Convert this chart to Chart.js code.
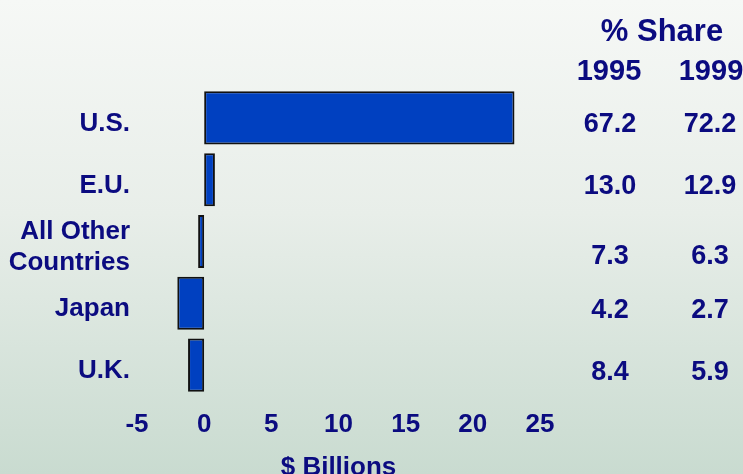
<!DOCTYPE html>
<html>
<head>
<meta charset="utf-8">
<script src="https://cdn.jsdelivr.net/npm/chart.js@4"></script>
<style>
  html, body { margin: 0; padding: 0; }
  body { width: 743px; height: 474px; background: linear-gradient(#f6f8f6, #e8eee9 45%, #c9dbd0); }
  #wrap { width: 743px; height: 474px; }
</style>
</head>
<body>
<div id="wrap"><canvas id="chart"></canvas></div>
<script>
const categories = ['U.S.', 'E.U.', ['All Other', 'Countries'], 'Japan', 'U.K.'];
const billions = [23.1, 0.8, -0.45, -2.0, -1.2];
const share1995 = ['67.2', '13.0', '7.3', '4.2', '8.4'];
const share1999 = ['72.2', '12.9', '6.3', '2.7', '5.9'];
const years = ['1995', '1999'];

const navy = '#0b0b80';
const font = { family: 'Liberation Sans, Arial, sans-serif', weight: 'bold', size: 26, lineHeight: 1.2 };

// share table on the right, rows follow the category scale
const shareTable = {
  id: 'shareTable',
  afterDraw(chart) {
    const ctx = chart.ctx;
    const y = chart.scales.y;
    const right = chart.chartArea.right;
    const cols = [right + 70, right + 170];
    ctx.save();
    ctx.fillStyle = navy;
    ctx.textAlign = 'center';
    ctx.textBaseline = 'middle';
    ctx.font = 'bold 31px Liberation Sans, Arial, sans-serif';
    ctx.fillText('% Share', (cols[0] + cols[1]) / 2 + 2, 32);
    ctx.font = 'bold 29px Liberation Sans, Arial, sans-serif';
    ctx.fillText(years[0], cols[0] - 1, 72);
    ctx.fillText(years[1], cols[1] + 1, 72);
    ctx.font = 'bold 27px Liberation Sans, Arial, sans-serif';
    share1995.forEach((v, i) => {
      // the two-line row sits a little lower in the original
      const py = y.getPixelForValue(i) + (Array.isArray(categories[i]) ? 15 : 7);
      ctx.fillText(v, cols[0], py);
      ctx.fillText(share1999[i], cols[1], py);
    });
    ctx.restore();
  }
};

new Chart(document.getElementById('chart'), {
  type: 'bar',
  data: {
    labels: categories,
    datasets: [{
      data: billions,
      backgroundColor: '#0040c0',
      borderColor: '#111',
      borderWidth: 2,
      borderSkipped: false,
      categoryPercentage: 1,
      barPercentage: 0.86
    }]
  },
  options: {
    indexAxis: 'y',
    responsive: true,
    maintainAspectRatio: false,
    animation: false,
    layout: { padding: { top: 87, right: 203, left: 0, bottom: 0 } },
    plugins: { legend: { display: false }, tooltip: { enabled: false } },
    scales: {
      x: {
        min: -5,
        max: 25,
        afterFit(scale) { scale.height = 78; },
        ticks: { stepSize: 5, color: navy, font: font, padding: 13, maxRotation: 0 },
        grid: { display: false, drawTicks: false },
        border: { display: false },
        title: { display: true, text: '$ Billions', color: navy, font: font, padding: { top: 0, bottom: -9 } }
      },
      y: {
        afterFit(scale) { scale.width = 137; },
        ticks: { color: navy, font: font, padding: 7, labelOffset: 6, autoSkip: false },
        grid: { display: false, drawTicks: false },
        border: { display: false }
      }
    }
  },
  plugins: [shareTable]
});
</script>
</body>
</html>
